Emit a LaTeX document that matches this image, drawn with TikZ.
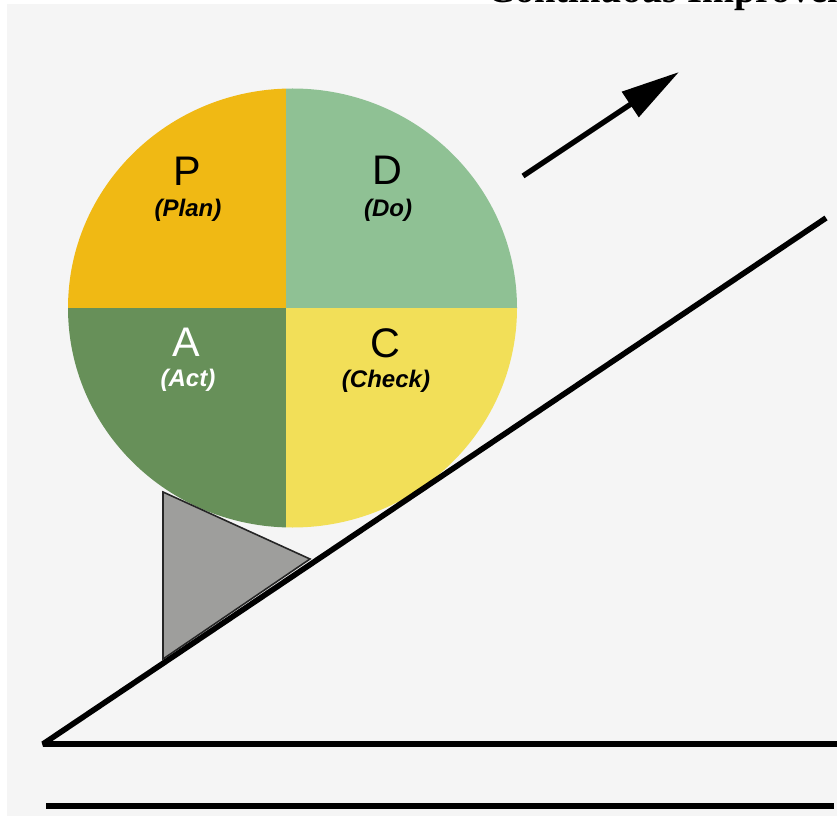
\documentclass[tikz,border=0pt]{standalone}
\usepackage{fontspec}
\setmainfont{Liberation Sans}
\newfontfamily\headfont{Liberation Serif}
\usetikzlibrary{arrows.meta, positioning}
\definecolor{cplan}{HTML}{F0B914}
\definecolor{cdo}{HTML}{8FC194}
\definecolor{cact}{HTML}{679059}
\definecolor{ccheck}{HTML}{F2DF58}
\definecolor{cback}{HTML}{F5F5F5}
\definecolor{cwedge}{HTML}{9E9E9C}
\tikzset{
  every picture/.style={line width=4pt},
  letter/.style={font=\fontsize{31}{36}\selectfont, inner sep=0pt},
  sub/.style={font=\fontsize{18}{21}\selectfont\bfseries\itshape, inner sep=0pt},
  ground/.style={draw=black, line width=4.2pt, line join=bevel},
  arrow/.style={-{Triangle[length=44pt, width=22pt]}, draw=black, line width=4pt},
}

\begin{document}
\begin{tikzpicture}[x=0.75pt, y=-0.75pt]
  \useasboundingbox (0,0) rectangle (837,816);
  \clip (0,0) rectangle (837,816);
  \fill[white] (0,0) rectangle (837,816);
  \fill[cback] (7,4) rectangle (837,816);
  \node[font=\headfont\bfseries\fontsize{28.8}{34}\selectfont, anchor=base west, inner sep=0pt] (title) at (485,2.5) {Continuous Improvement};
  % the PDCA ball
  \begin{scope}
    \clip (292.5,308) ellipse [x radius=224.5, y radius=219.5];
    \fill[cplan] (60,80) rectangle (285.5,307.5);
    \fill[cdo] (285.5,80) rectangle (525,307.5);
    \fill[cact] (60,307.5) rectangle (285.5,535);
    \fill[ccheck] (285.5,307.5) rectangle (525,535);
  \end{scope}
  \node[letter] (p) at (187.5,171) {P};
  \node[sub] (plan) at (188,210) {(Plan)};
  \node[letter] (d) at (387.5,170) {D};
  \node[sub] (do) at (388,210) {(Do)};
  \node[letter, text=white] (a) at (186.5,342) {A};
  \node[sub, text=white] (act) at (188,380) {(Act)};
  \node[letter] (c) at (385,343) {C};
  \node[sub] (check) at (386,381.5) {(Check)};
  % wedge and slope
  \draw[fill=cwedge, draw=black!85, line width=1.2pt] (163,492) -- (163,659) -- (310,559) -- cycle;
  \coordinate (top) at (826,218);
  \coordinate (foot) at (43,744);
  \coordinate (right) at (840,744);
  \draw[ground] (top) -- (foot) -- (right);
  \coordinate (base l) at (46,806);
  \coordinate (base r) at (834,806);
  \draw[ground] (base l) -- (base r);
  % direction of improvement
  \coordinate (tail) at (523,176);
  \coordinate (head) at (679,72);
  \draw[arrow] (tail) -- (head);
\end{tikzpicture}
\end{document}
